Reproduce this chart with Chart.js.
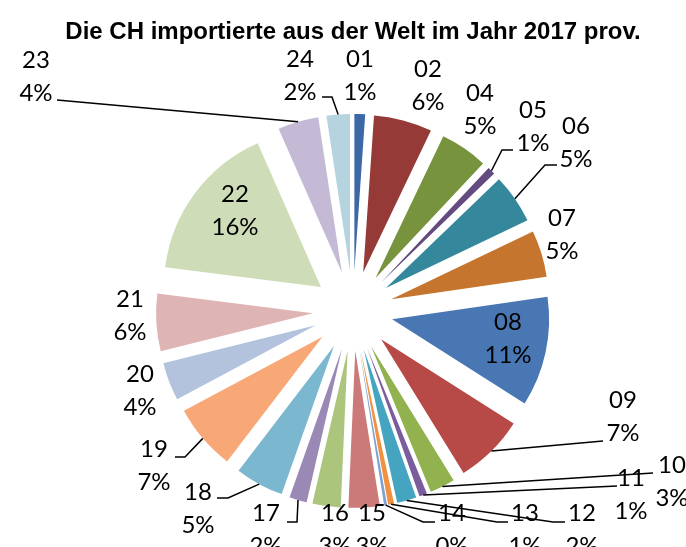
<!DOCTYPE html>
<html lang="de">
<head>
<meta charset="UTF-8">
<title>Die CH importierte aus der Welt im Jahr 2017 prov.</title>
<style>
    body { margin: 0; overflow: hidden; background: #fff; }
    #wrap { position: absolute; left: 0; top: 0; width: 686px; height: 620px; }
</style>
</head>
<body>
<div id="wrap"><canvas id="pie"></canvas></div>
<script src="https://cdn.jsdelivr.net/npm/chart.js@4/dist/chart.umd.min.js"></script>
<script>
// data (shares of total imports)
const categories = ['01','02','04','05','06','07','08','09','10','11','12','13','14','15','16','17','18','19','20','21','22','23','24'];
const values = [1.1, 6.0, 4.9, 0.8, 5.1, 4.8, 11.3, 7.2, 2.6, 0.8, 2.0, 0.6, 0.3, 3.2, 2.9, 1.8, 5.0, 6.8, 3.9, 5.9, 16.4, 4.2, 2.4];
const colors = ['#3C68A5','#953A37','#77933D','#634A80','#35889C','#C6752F','#4877B4','#B74A47','#92B250','#7A5D9C','#45A5C0','#F09140','#7EA1D1',
                '#CB7A79','#ACC57D','#9A88B5','#7BB8CF','#F8A877','#B3C2DD','#DEB5B4','#CFDCB8','#C4BAD5','#B5D4E0'];

// label block centres, relative to the pie centre
const labelAt = {
    '01': [7, -235], '02': [75, -225], '04': [127, -201], '05': [180, -184], '06': [223, -168],
    '07': [209, -76], '08': [155, 28], '09': [270, 106], '10': [319, 171], '11': [278, 184],
    '12': [229, 219], '13': [172, 219], '14': [99, 219], '15': [19, 219], '16': [-18, 219],
    '17': [-87, 219], '18': [-155, 198], '19': [-199, 155], '20': [-213, 80], '21': [-223, 5],
    '22': [-118, -100], '23': [-317, -234], '24': [-53, -235]
};
// leader lines: start x, start y, end of horizontal stub x (relative to centre)
const leaders = {
    '23': [-296, -211, -296], '24': [-31, -214, -21], '05': [160, -161, 149], '06': [204, -146, 192],
    '09': [250, 130, 250], '10': [300, 162, 300], '11': [264, 175, 264], '12': [212, 211, 200],
    '13': [155, 211, 144], '14': [82, 211, 70], '17': [-66, 211, -56], '18': [-136, 187, -125],
    '19': [-178, 146, -168]
};

const EXPLODE = 40;
const RADIUS = 157;
const total = values.reduce((a, b) => a + b, 0);

// every slice pulled out from the centre by the same distance
const explodePlugin = {
    id: 'explode',
    beforeDatasetDraw(chart, args) {
        const ctx = chart.ctx;
        args.meta.data.forEach(arc => {
            const mid = (arc.startAngle + arc.endAngle) / 2;
            ctx.save();
            ctx.translate(Math.cos(mid) * EXPLODE, Math.sin(mid) * EXPLODE);
            arc.draw(ctx);
            ctx.restore();
        });
        return false;
    }
};

const labelPlugin = {
    id: 'sliceLabels',
    afterDatasetsDraw(chart) {
        const ctx = chart.ctx;
        const arcs = chart.getDatasetMeta(0).data;
        ctx.save();
        ctx.font = '24px Lato';
        ctx.fillStyle = '#000';
        ctx.strokeStyle = '#000';
        ctx.lineWidth = 1.5;
        ctx.textAlign = 'center';
        ctx.textBaseline = 'middle';
        arcs.forEach((arc, i) => {
            const cat = categories[i];
            const cx = arc.x, cy = arc.y;
            const pos = labelAt[cat];
            const pct = Math.round(values[i] / total * 100) + '%';
            ctx.fillText(cat, cx + pos[0], cy + pos[1] - 16.5);
            ctx.fillText(pct, cx + pos[0], cy + pos[1] + 16.5);
            const ld = leaders[cat];
            if (ld) {
                const mid = (arc.startAngle + arc.endAngle) / 2;
                const r = EXPLODE + arc.outerRadius;
                ctx.beginPath();
                ctx.moveTo(cx + ld[0], cy + ld[1]);
                ctx.lineTo(cx + ld[2], cy + ld[1]);
                ctx.lineTo(cx + Math.cos(mid) * r, cy + Math.sin(mid) * r);
                ctx.stroke();
            }
        });
        ctx.restore();
    }
};

new Chart(document.getElementById('pie'), {
    type: 'pie',
    data: {
        labels: categories,
        datasets: [{
            data: values,
            backgroundColor: colors,
            borderWidth: 0
        }]
    },
    options: {
        responsive: true,
        maintainAspectRatio: false,
        animation: false,
        radius: RADIUS,
        layout: { padding: { left: 20, right: 0, top: 0, bottom: 53 } },
        plugins: {
            legend: { display: false },
            tooltip: { enabled: false },
            title: {
                display: true,
                text: 'Die CH importierte aus der Welt im Jahr 2017 prov.',
                color: '#000',
                font: { family: 'Liberation Sans', size: 24, weight: 'bold' },
                padding: { top: 18, bottom: 8 }
            }
        }
    },
    plugins: [explodePlugin, labelPlugin]
});
</script>
</body>
</html>
